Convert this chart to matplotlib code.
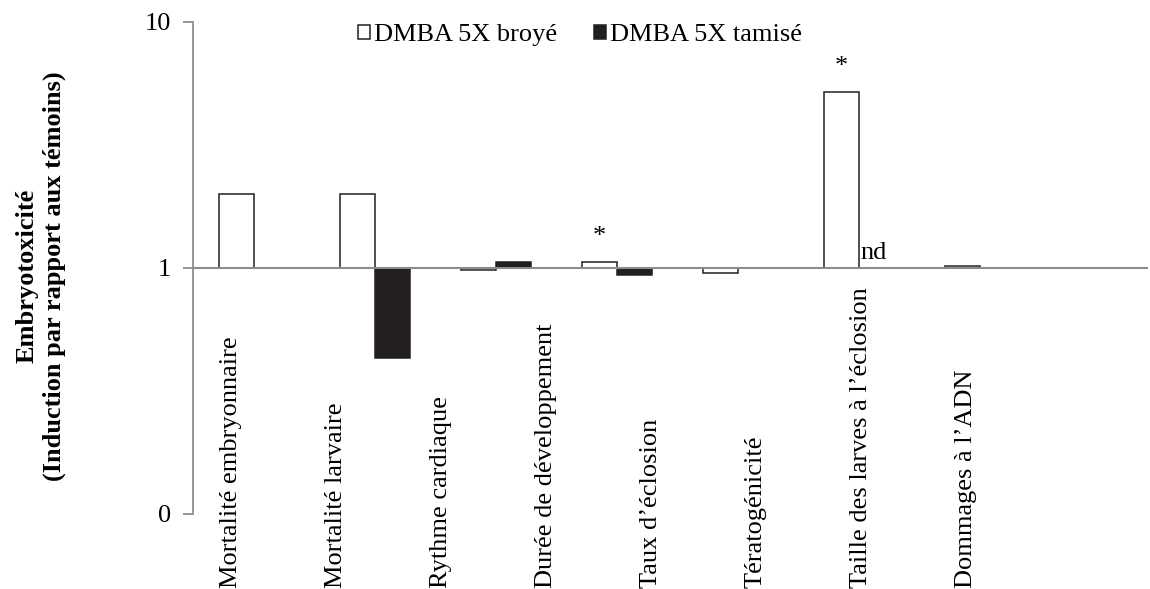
import numpy as np
import matplotlib.pyplot as plt
from matplotlib.patches import Patch
from matplotlib.transforms import blended_transform_factory

plt.rcParams['font.family'] = ['Liberation Serif', 'DejaVu Serif']

categories = ["Mortalité embryonnaire", "Mortalité larvaire", "Rythme cardiaque",
              "Durée de développement", "Taux d’éclosion", "Tératogénicité",
              "Taille des larves à l’éclosion", "Dommages à l’ADN"]
series = ["DMBA 5X broyé", "DMBA 5X tamisé"]
# induction relative to controls (1 = no effect), one value per bar group
broye = [2.0, 2.0, 0.977, 1.055, 0.954, 5.2, 1.02, 1.0]
tamise = [1.0, 0.43, 1.06, 0.934, 1.0, np.nan, 1.0, 1.0]
stars = [3, 5]       # groups with a significant broyé bar
nd_groups = [5]      # tamisé not determined

black = '#231f20'
grey = '#8c8c8c'
fs = 19

fig = plt.figure(figsize=(11.5, 5.89), dpi=100)
ax = fig.add_axes([193/1150, 1 - 514/589, (1148 - 193)/1150, (514 - 22)/589])

x = np.arange(len(broye))
w = 0.29
b = np.array(broye)
t = np.array(tamise)

mb = b != 1
ax.bar(x[mb] - w, b[mb] - 1, width=w, bottom=1, align='edge',
       facecolor='white', edgecolor=black, linewidth=1.1, zorder=2)
mt = ~np.isnan(t) & (t != 1)
ax.bar(x[mt], t[mt] - 1, width=w, bottom=1, align='edge',
       facecolor=black, edgecolor=black, linewidth=1.1, zorder=2)

ax.axhline(1, color=grey, lw=1.5, zorder=3)

for g in stars:
    ax.annotate('*', (x[g] - w/2, b[g]), xytext=(0, 10), textcoords='offset points',
                ha='center', va='bottom', fontsize=fs)
for g in nd_groups:
    ax.annotate('nd', (x[g], 1), xytext=(1, 3), textcoords='offset points',
                ha='left', va='bottom', fontsize=fs)

ax.set_yscale('log')
ax.set_ylim(0.1, 10)
ax.set_xlim(-0.504, 7.39)
ax.set_yticks([0.1, 1, 10])
ax.set_yticklabels(['0', '1', '10'])
ax.yaxis.set_minor_locator(plt.NullLocator())
ax.tick_params(axis='y', direction='out', length=7, width=1.3, color=grey,
               pad=9, labelsize=fs)
ax.set_xticks([])
for s in ['top', 'right', 'bottom']:
    ax.spines[s].set_visible(False)
ax.spines['left'].set_color(grey)
ax.spines['left'].set_linewidth(1.3)

# category labels sit on their own spacing, anchored at the bottom
label_pos = -0.19 + 0.868 * np.arange(len(categories))
trans = blended_transform_factory(ax.transData, fig.transFigure)
for k, name in enumerate(categories):
    ax.text(label_pos[k], 0.002, name, rotation=90, ha='center', va='bottom',
            fontsize=fs, transform=trans)

fig.text(41/1150, 1 - 276/589, "Embryotoxicité\n(Induction par rapport aux témoins)",
         rotation=90, ha='center', va='center', fontweight='bold', fontsize=fs,
         linespacing=1.2)

handles = [Patch(facecolor='white', edgecolor=black, linewidth=1.1),
           Patch(facecolor=black, edgecolor=black, linewidth=1.1)]
fig.legend(handles, series, loc='center', bbox_to_anchor=(580/1150, 1 - 35/589),
           ncol=2, frameon=False, handlelength=0.45, handleheight=0.45,
           handletextpad=0.15, columnspacing=1.4, fontsize=fs)

fig.savefig('out.png', dpi=100)
